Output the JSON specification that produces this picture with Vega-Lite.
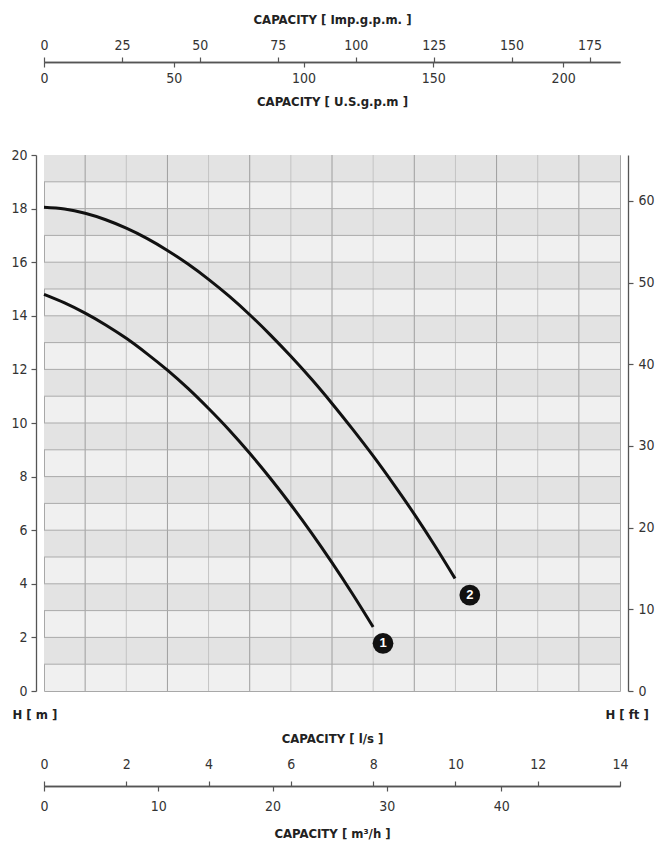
{
  "$schema": "https://vega.github.io/schema/vega-lite/v6.json",
  "width": 576,
  "height": 536,
  "autosize": "none",
  "padding": {"left": 44, "top": 155, "right": 37, "bottom": 157},
  "background": "white",
  "datasets": {
    "curves": [
      {"pump": "1", "Q": 0, "H": 14.8}, {"pump": "1", "Q": 0.5, "H": 14.48}, {"pump": "1", "Q": 1, "H": 14.1},
      {"pump": "1", "Q": 1.5, "H": 13.66}, {"pump": "1", "Q": 2, "H": 13.16}, {"pump": "1", "Q": 2.5, "H": 12.59},
      {"pump": "1", "Q": 3, "H": 11.97}, {"pump": "1", "Q": 3.5, "H": 11.29}, {"pump": "1", "Q": 4, "H": 10.54},
      {"pump": "1", "Q": 4.5, "H": 9.74}, {"pump": "1", "Q": 5, "H": 8.87}, {"pump": "1", "Q": 5.5, "H": 7.94},
      {"pump": "1", "Q": 6, "H": 6.95}, {"pump": "1", "Q": 6.5, "H": 5.9}, {"pump": "1", "Q": 7, "H": 4.79},
      {"pump": "1", "Q": 7.5, "H": 3.62}, {"pump": "1", "Q": 8.0, "H": 2.39},
      {"pump": "2", "Q": 0, "H": 18.05}, {"pump": "2", "Q": 0.5, "H": 17.985}, {"pump": "2", "Q": 1, "H": 17.825},
      {"pump": "2", "Q": 1.5, "H": 17.585}, {"pump": "2", "Q": 2, "H": 17.27}, {"pump": "2", "Q": 2.5, "H": 16.89},
      {"pump": "2", "Q": 3, "H": 16.44}, {"pump": "2", "Q": 3.5, "H": 15.93}, {"pump": "2", "Q": 4, "H": 15.36},
      {"pump": "2", "Q": 4.5, "H": 14.73}, {"pump": "2", "Q": 5, "H": 14.04}, {"pump": "2", "Q": 5.5, "H": 13.29},
      {"pump": "2", "Q": 6, "H": 12.49}, {"pump": "2", "Q": 6.5, "H": 11.64}, {"pump": "2", "Q": 7, "H": 10.73},
      {"pump": "2", "Q": 7.5, "H": 9.77}, {"pump": "2", "Q": 8, "H": 8.77}, {"pump": "2", "Q": 8.5, "H": 7.71},
      {"pump": "2", "Q": 9, "H": 6.6}, {"pump": "2", "Q": 9.5, "H": 5.42}, {"pump": "2", "Q": 9.99, "H": 4.2}
    ],
    "markers": [
      {"Q": 8.24, "H": 1.78, "label": "1"},
      {"Q": 10.35, "H": 3.58, "label": "2"}
    ],
    "bands": [
      {"lo": 1, "hi": 2}, {"lo": 3, "hi": 4}, {"lo": 5, "hi": 6}, {"lo": 7, "hi": 8}, {"lo": 9, "hi": 10},
      {"lo": 11, "hi": 12}, {"lo": 13, "hi": 14}, {"lo": 15, "hi": 16}, {"lo": 17, "hi": 18}, {"lo": 19, "hi": 20}
    ],
    "xOdd": [{"v": 1}, {"v": 3}, {"v": 5}, {"v": 7}, {"v": 9}, {"v": 11}, {"v": 13}],
    "xEven": [{"v": 2}, {"v": 4}, {"v": 6}, {"v": 8}, {"v": 10}, {"v": 12}],
    "yLines": [
      {"v": 1}, {"v": 2}, {"v": 3}, {"v": 4}, {"v": 5}, {"v": 6}, {"v": 7}, {"v": 8}, {"v": 9}, {"v": 10},
      {"v": 11}, {"v": 12}, {"v": 13}, {"v": 14}, {"v": 15}, {"v": 16}, {"v": 17}, {"v": 18}, {"v": 19}
    ]
  },
  "config": {
    "view": {"fill": "#f0f0f0", "stroke": "#a8a8a8", "strokeWidth": 1},
    "axis": {
      "grid": false,
      "labelFont": "Liberation Sans Narrow, DejaVu Sans Condensed, sans-serif",
      "labelFontSize": 14,
      "labelColor": "#333333",
      "labelFlush": false,
      "labelOverlap": false,
      "domainColor": "#555555",
      "domainWidth": 1.3,
      "tickColor": "#555555",
      "tickWidth": 1.2,
      "tickSize": 5,
      "titleFont": "Liberation Sans Narrow, DejaVu Sans Condensed, sans-serif",
      "titleFontSize": 13,
      "titleFontWeight": "bold",
      "titleColor": "#222222"
    }
  },
  "resolve": {"axis": {"x": "independent", "y": "independent"}},
  "layer": [
    {
      "data": {"name": "bands"},
      "mark": {"type": "rect", "color": "#e3e3e3"},
      "encoding": {
        "x": {"datum": 0, "type": "quantitative", "scale": {"domain": [0, 14], "nice": false, "zero": true}, "axis": null},
        "x2": {"datum": 14},
        "y": {"field": "lo", "type": "quantitative", "scale": {"domain": [0, 20], "nice": false, "zero": true}, "axis": null},
        "y2": {"field": "hi"}
      }
    },
    {
      "data": {"name": "xEven"},
      "mark": {"type": "rule", "color": "#c4c4c4", "strokeWidth": 1},
      "encoding": {
        "x": {
          "field": "v", "type": "quantitative",
          "axis": {
            "orient": "bottom", "offset": -629,
            "values": [0, 3.1545, 6.309, 9.4635, 12.618],
            "labelExpr": "format(datum.value * 15.8503, '.0f')",
            "labelPadding": 4,
            "title": "CAPACITY [ U.S.g.p.m ]",
            "titlePadding": 10
          }
        }
      }
    },
    {
      "data": {"name": "xOdd"},
      "mark": {"type": "rule", "color": "#9e9e9e", "strokeWidth": 1},
      "encoding": {
        "x": {
          "field": "v", "type": "quantitative",
          "axis": {
            "orient": "top", "offset": 93,
            "values": [0, 1.8942, 3.7884, 5.6826, 7.5768, 9.471, 11.3652, 13.2594],
            "labelExpr": "format(datum.value * 13.1981, '.0f')",
            "labelPadding": 5,
            "title": "CAPACITY [ Imp.g.p.m. ]",
            "titlePadding": 12
          }
        }
      }
    },
    {
      "data": {"name": "yLines"},
      "mark": {"type": "rule", "color": "#ababab", "strokeWidth": 1},
      "encoding": {
        "y": {"field": "v", "type": "quantitative", "axis": null}
      }
    },
    {
      "data": {"name": "curves"},
      "mark": {"type": "line", "color": "#111111", "strokeWidth": 3, "interpolate": "monotone"},
      "encoding": {
        "x": {
          "field": "Q", "type": "quantitative",
          "axis": {
            "orient": "top", "offset": -631,
            "values": [0, 2, 4, 6, 8, 10, 12, 14],
            "labelPadding": 10,
            "title": "CAPACITY [ l/s ]",
            "titlePadding": 12
          }
        },
        "y": {
          "field": "H", "type": "quantitative",
          "axis": {
            "orient": "left", "offset": 8,
            "values": [0, 2, 4, 6, 8, 10, 12, 14, 16, 18, 20],
            "labelPadding": 4,
            "title": "H [ m ]",
            "titleAngle": 0,
            "titleAlign": "left",
            "titleBaseline": "middle",
            "titleX": -24,
            "titleY": 559
          }
        },
        "detail": {"field": "pump"}
      }
    },
    {
      "data": {"name": "markers"},
      "mark": {"type": "circle", "color": "#111111", "opacity": 1, "size": 430},
      "encoding": {
        "x": {
          "field": "Q", "type": "quantitative",
          "axis": {
            "orient": "bottom", "offset": 95,
            "values": [0, 2.7778, 5.5556, 8.3333, 11.1111],
            "labelExpr": "format(datum.value * 3.6, '.0f')",
            "labelPadding": 8,
            "title": "CAPACITY [ m³/h ]",
            "titlePadding": 14
          }
        },
        "y": {
          "field": "H", "type": "quantitative",
          "axis": {
            "orient": "right", "offset": 8,
            "values": [0, 3.048, 6.096, 9.144, 12.192, 15.24, 18.288],
            "labelExpr": "format(datum.value * 3.28084, '.0f')",
            "labelPadding": 5,
            "title": "H [ ft ]",
            "titleAngle": 0,
            "titleAlign": "left",
            "titleBaseline": "middle",
            "titleX": -23,
            "titleY": 559
          }
        }
      }
    },
    {
      "data": {"name": "markers"},
      "mark": {"type": "text", "color": "white", "fontWeight": "bold", "fontSize": 13, "font": "Liberation Sans, sans-serif", "baseline": "middle", "align": "center"},
      "encoding": {
        "x": {"field": "Q", "type": "quantitative", "axis": null},
        "y": {"field": "H", "type": "quantitative", "axis": null},
        "text": {"field": "label"}
      }
    }
  ]
}
